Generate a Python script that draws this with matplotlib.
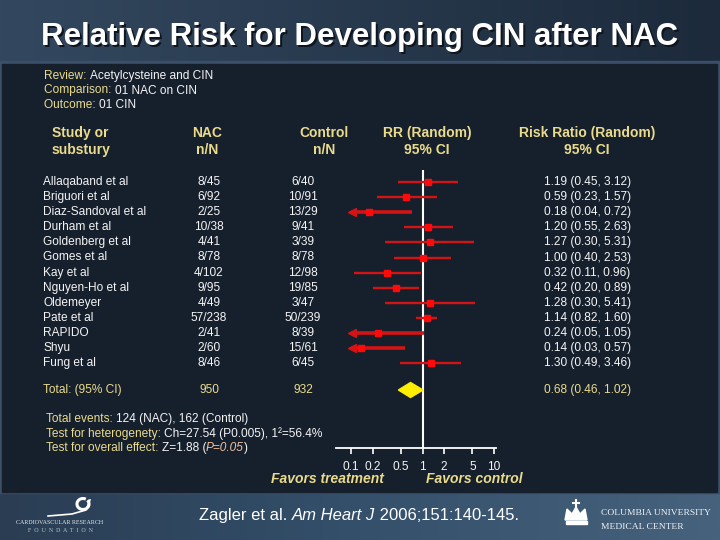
import numpy as np
import matplotlib

matplotlib.use("Agg")
import matplotlib.pyplot as plt
from matplotlib.colors import LinearSegmentedColormap
from matplotlib.patches import Polygon, Arc

plt.rcParams["font.family"] = ["Liberation Sans", "DejaVu Sans"]

# data
studies = [
    "Allaqaband et al", "Briguori et al", "Diaz-Sandoval et al", "Durham et al",
    "Goldenberg et al", "Gomes et al", "Kay et al", "Nguyen-Ho et al",
    "Oldemeyer", "Pate et al", "RAPIDO", "Shyu", "Fung et al",
]
nac_events = [8, 6, 2, 10, 4, 8, 4, 9, 4, 57, 2, 2, 8]
nac_total = [45, 92, 25, 38, 41, 78, 102, 95, 49, 238, 41, 60, 46]
ctl_events = [6, 10, 13, 9, 3, 8, 12, 19, 3, 50, 8, 15, 6]
ctl_total = [40, 91, 29, 41, 39, 78, 98, 85, 47, 239, 39, 61, 45]
rr = [1.19, 0.59, 0.18, 1.20, 1.27, 1.00, 0.32, 0.42, 1.28, 1.14, 0.24, 0.14, 1.30]
rr_lo = [0.45, 0.23, 0.04, 0.55, 0.30, 0.40, 0.11, 0.20, 0.30, 0.82, 0.05, 0.03, 0.49]
rr_hi = [3.12, 1.57, 0.72, 2.63, 5.31, 2.53, 0.96, 0.89, 5.41, 1.60, 1.05, 0.57, 3.46]
pooled = (0.68, 0.46, 1.02)
axis_ticks = [0.1, 0.2, 0.5, 1, 2, 5, 10]

KHAKI = "#eadb8c"
WHITE = "#f4f4f4"
RED = "#d41414"
PANEL = "#16202d"

fig = plt.figure(figsize=(7.2, 5.4), dpi=100)
bg = fig.add_axes([0, 0, 1, 1])
bg.set_xlim(0, 720)
bg.set_ylim(540, 0)
bg.axis("off")
renderer = fig.canvas.get_renderer()

# backgrounds: title bar, main panel, footer bar
top_cmap = LinearSegmentedColormap.from_list("top", ["#33485f", "#1c2a3b"])
bot_cmap = LinearSegmentedColormap.from_list("bot", ["#2a3d53", "#34506b", "#46627d"])
grad = np.linspace(0, 1, 256).reshape(1, -1)
bg.imshow(grad, cmap=top_cmap, extent=[0, 720, 62, 0], aspect="auto", zorder=0)
bg.imshow(grad, cmap=bot_cmap, extent=[0, 720, 540, 492], aspect="auto", zorder=0)
bg.add_patch(plt.Rectangle((0, 61), 720, 432, color="#3b5068", zorder=1))
bg.add_patch(plt.Rectangle((2, 64), 715, 428, color=PANEL, zorder=2))

title = "Relative Risk for Developing CIN after NAC"
bg.text(361.5, 38.5, title, color="#0e151e", fontsize=22.5, fontweight="bold",
        ha="center", va="center", zorder=3)
bg.text(360, 37, title, color="white", fontsize=22.5, fontweight="bold",
        ha="center", va="center", zorder=4)


def two_tone(x, y, parts, size, weight="normal"):
    """Write a line made of (text, colour, style) pieces on one baseline."""
    for txt, col, style in parts:
        t = bg.text(x, y, txt, color=col, fontsize=size, fontweight=weight,
                    fontstyle=style, ha="left", va="baseline", zorder=5)
        # bg axes is 1 data unit per pixel, so the width carries over directly
        x += t.get_window_extent(renderer).width


two_tone(44, 79, [("Review: ", KHAKI, "normal"), ("Acetylcysteine and CIN", WHITE, "normal")], 8.6)
two_tone(44, 93.5, [("Comparison: ", KHAKI, "normal"), ("01 NAC on CIN", WHITE, "normal")], 8.6)
two_tone(44, 108, [("Outcome: ", KHAKI, "normal"), ("01 CIN", WHITE, "normal")], 8.6)

# column headers
hdr = dict(color=KHAKI, fontsize=10, fontweight="bold", va="center")
bg.text(52, 133, "Study or", ha="left", **hdr)
bg.text(52, 150, "substury", ha="left", **hdr)
for cx, l1, l2 in [(207, "NAC", "n/N"), (324, "Control", "n/N"),
                   (427, "RR (Random)", "95% CI"), (587, "Risk Ratio (Random)", "95% CI")]:
    bg.text(cx, 133, l1, ha="center", **hdr)
    bg.text(cx, 150, l2, ha="center", **hdr)

row_y = [182 + 15.1 * i for i in range(len(studies))]
total_y = 390
row = dict(fontsize=8.6, va="center", color=WHITE)
for i, name in enumerate(studies):
    y = row_y[i]
    bg.text(43, y, name, ha="left", **row)
    bg.text(209, y, f"{nac_events[i]}/{nac_total[i]}", ha="center", **row)
    bg.text(303, y, f"{ctl_events[i]}/{ctl_total[i]}", ha="center", **row)
    bg.text(544, y, f"{rr[i]:.2f} ({rr_lo[i]:.2f}, {rr_hi[i]:.2f})", ha="left", **row)

tot = dict(fontsize=8.6, va="center", color=KHAKI)
bg.text(43, total_y, "Total: (95% CI)", ha="left", **tot)
bg.text(209, total_y, str(sum(nac_total)), ha="center", **tot)
bg.text(303, total_y, str(sum(ctl_total)), ha="center", **tot)
bg.text(544, total_y, f"{pooled[0]:.2f} ({pooled[1]:.2f}, {pooled[2]:.2f})", ha="left", **tot)

# summary statistics
two_tone(46, 422, [("Total events: ", KHAKI, "normal"),
                   (f"{sum(nac_events)} (NAC), {sum(ctl_events)} (Control)", WHITE, "normal")], 8.6)
two_tone(46, 437, [("Test for heterogenety: ", KHAKI, "normal"),
                   ("Ch=27.54 (P0.005), 1\u00b2=56.4%", WHITE, "normal")], 8.6)
two_tone(46, 451, [("Test for overall effect: ", KHAKI, "normal"), ("Z=1.88 (", WHITE, "normal"),
                   ("P=0.05", "#f0c0a0", "italic"), (")", WHITE, "normal")], 8.6)

# forest plot axes, in log scale; pixel geometry matches the slide
px_one, px_dec = 422.5, 71.5
x0, x1, ytop, ybot = 336, 496, 165, 448
fx = fig.add_axes([x0 / 720, (540 - ybot) / 540, (x1 - x0) / 720, (ybot - ytop) / 540])
fx.set_xscale("log")
fx.set_xlim(10 ** ((x0 - px_one) / px_dec), 10 ** ((x1 - px_one) / px_dec))
fx.set_ylim(ybot, ytop)
fx.patch.set_alpha(0)
for s in ["top", "right", "left"]:
    fx.spines[s].set_visible(False)
fx.spines["bottom"].set_color("white")
fx.spines["bottom"].set_linewidth(1.3)
fx.set_yticks([])
fx.set_xticks(axis_ticks)
fx.set_xticklabels([f"{t:g}" for t in axis_ticks])
fx.minorticks_off()
fx.tick_params(axis="x", colors="white", labelcolor=WHITE, labelsize=8.6,
               length=4, width=1.2, pad=5)
fx.vlines(1, 170, ybot, color="white", lw=1.5, zorder=2)

clip = axis_ticks[0]
for i in range(len(studies)):
    y = row_y[i]
    lo = max(rr_lo[i], clip)
    if rr_lo[i] < clip:
        fx.plot([lo, rr_hi[i]], [y, y], color=RED, lw=2.6, zorder=3, solid_capstyle="butt")
        fx.plot(lo * 1.04, y, marker="<", color=RED, ms=6, zorder=3)
    else:
        fx.plot([lo, rr_hi[i]], [y, y], color=RED, lw=1.7, zorder=3, solid_capstyle="butt")
    fx.plot(rr[i], y, marker="s", color="#ff0a0a", ms=5, zorder=4)

fx.add_patch(Polygon([(pooled[1], total_y), (pooled[0], total_y - 7.5),
                      (pooled[2], total_y), (pooled[0], total_y + 7.5)],
                     closed=True, color="#ffee00", zorder=4))

fav = dict(color=KHAKI, fontsize=10, fontweight="bold", fontstyle="italic", va="center", ha="center")
bg.text(327, 479, "Favors treatment", **fav)
bg.text(474, 479, "Favors control", **fav)

# footer
two_tone(199, 520, [("Zagler et al. ", "white", "normal"), ("Am Heart J", "white", "italic"),
                    (" 2006;151:140-145.", "white", "normal")], 12)

# CRF logo
bg.add_patch(Arc((83, 504), 12, 11, theta1=-40, theta2=300, color="white", lw=2.2, zorder=5))
bg.plot([48, 72, 86, 90], [516, 514, 510, 500], color="white", lw=1.2, zorder=5)
bg.text(60, 522, "CARDIOVASCULAR RESEARCH", color="#dfe6ee", fontsize=4.3,
        family="Liberation Serif", ha="center", va="center", zorder=5)
bg.text(60, 531, "F  O  U  N  D  A  T  I  O  N", color="#b8c4d0", fontsize=4.3,
        family="Liberation Serif", ha="center", va="center", zorder=5)

# Columbia logo
crown = [(565, 520), (567, 509), (572, 514), (576, 507), (580, 514), (585, 509), (587, 520)]
bg.add_patch(Polygon(crown, closed=True, color="white", zorder=5))
bg.add_patch(plt.Rectangle((566, 521), 21, 2.5, color="white", zorder=5))
bg.plot([576, 576], [500, 507], color="white", lw=1.5, zorder=5)
bg.plot([573, 579], [503, 503], color="white", lw=1.5, zorder=5)
bg.text(601, 513, "COLUMBIA UNIVERSITY", color="#eef2f6", fontsize=6.8,
        family="Liberation Serif", ha="left", va="center", zorder=5)
bg.text(601, 527, "MEDICAL CENTER", color="#eef2f6", fontsize=6.8,
        family="Liberation Serif", ha="left", va="center", zorder=5)

fig.savefig("out.png", dpi=100, facecolor=PANEL)
